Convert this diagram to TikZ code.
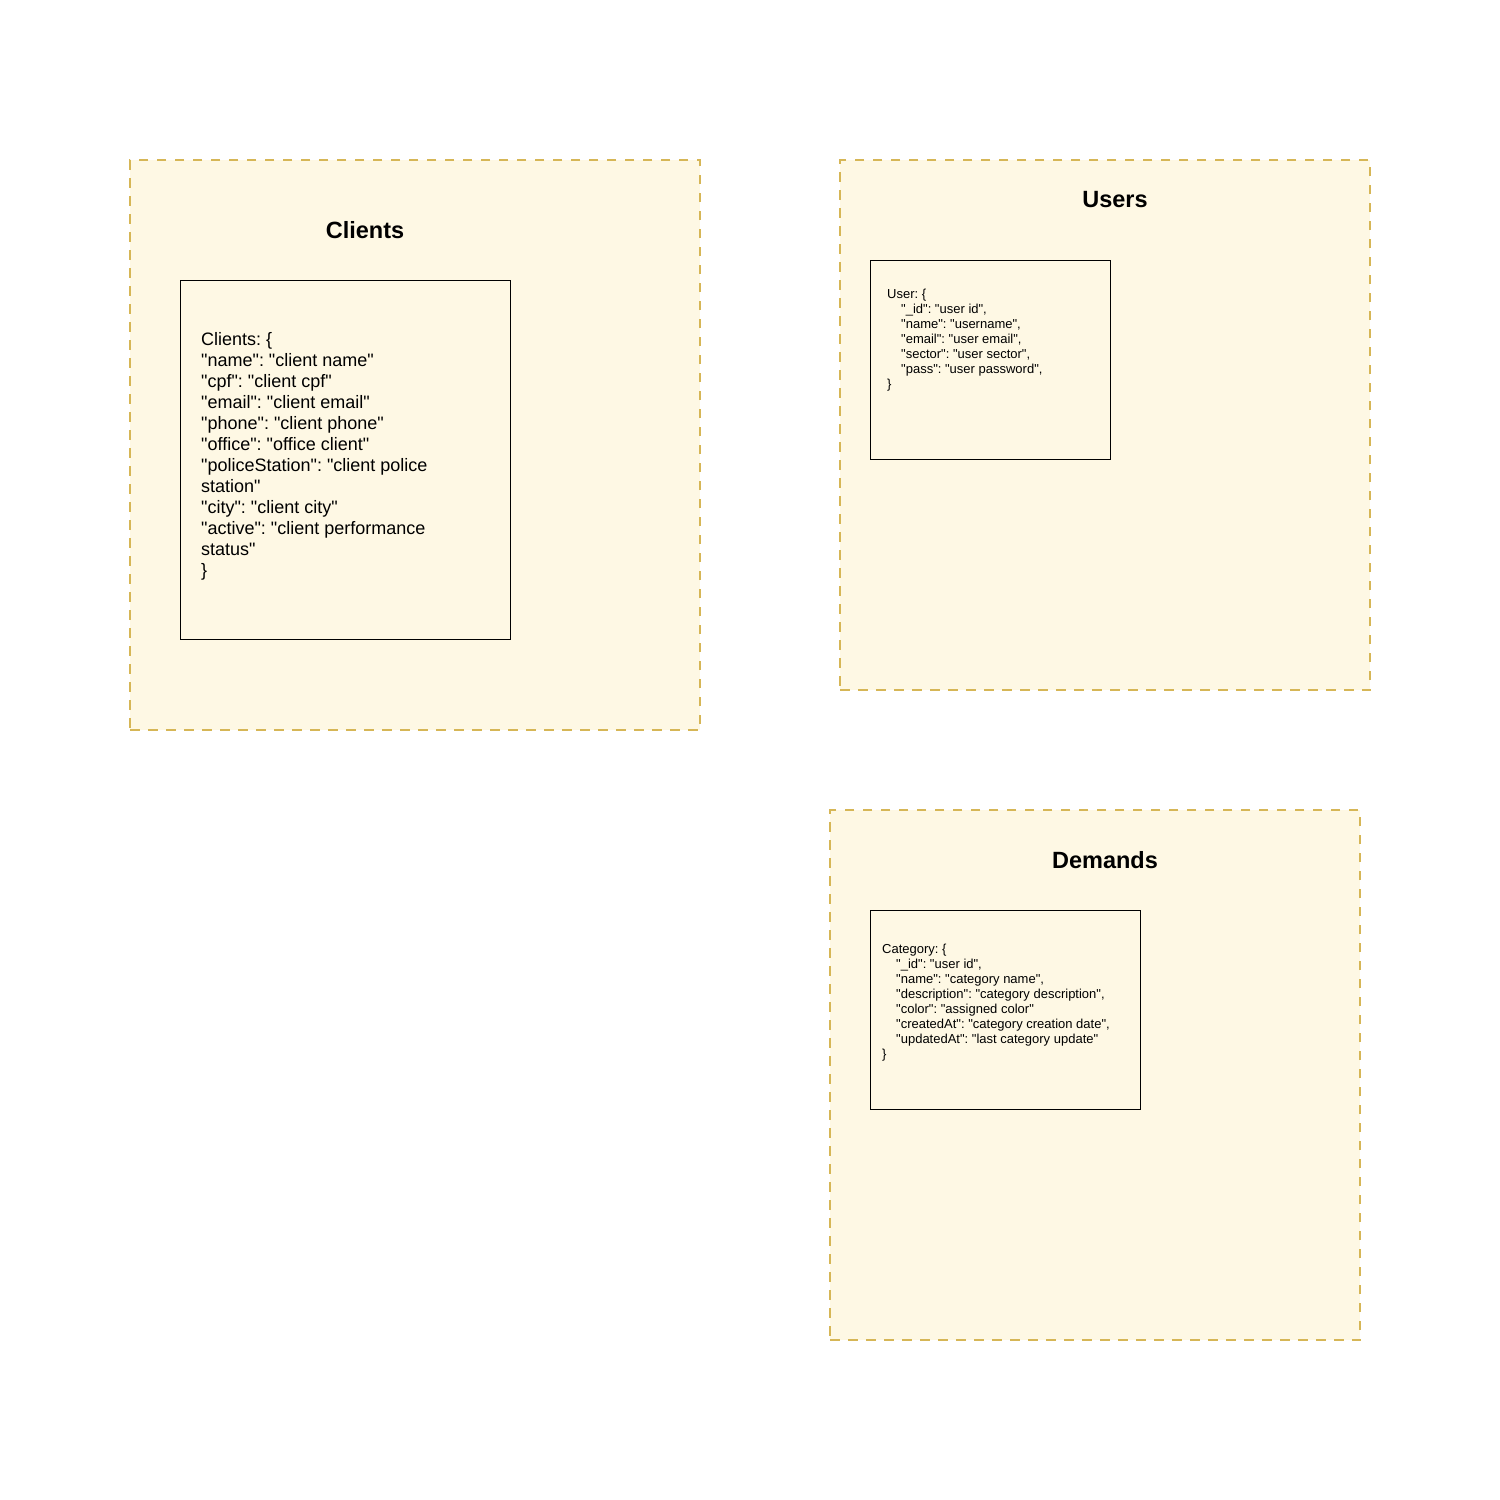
\documentclass[tikz,border=0pt]{standalone}
\usepackage{fontspec}
\setmainfont{Liberation Sans}[Ligatures=TeXOff]
\frenchspacing
\definecolor{contfill}{HTML}{FEF8E4}
\definecolor{contline}{HTML}{D6B656}
\begin{document}
\begin{tikzpicture}[x=1pt,y=-1pt,
  container/.style={draw=contline, fill=contfill, line width=2.6pt, dash pattern=on 9.5pt off 8.5pt, inner sep=0pt},
  jsonbox/.style={draw=black, line width=0.8pt, fill=contfill, inner sep=0pt},
  title/.style={font=\fontsize{23.5}{28}\selectfont\bfseries, inner sep=0pt},
  bigtext/.style={font=\fontsize{18}{21}\selectfont, align=left, inner sep=0pt, anchor=west},
  smalltext/.style={font=\fontsize{13}{15}\selectfont, align=left, inner sep=0pt, anchor=west}]
\useasboundingbox (0,0) rectangle (1500,1500);
\fill[white] (0,0) rectangle (1500,1500);
% Clients
\node[container, minimum width=570pt, minimum height=570pt] (clientsC) at (415,445) {};
\node[title] (clientsT) at (365,230) {Clients};
\node[jsonbox, minimum width=330pt, minimum height=359pt] (clientsB) at (345,459.5) {};
\node[bigtext] (clientsX) at (201,456) {Clients: \{\\
"name": "client name"\\
"cpf": "client cpf"\\
"email": "client email"\\
"phone": "client phone"\\
"office": "office client"\\
"policeStation": "client police\\
station"\\
"city": "client city"\\
"active": "client performance\\
status"\\
\}};
% Users
\node[container, minimum width=530pt, minimum height=530pt] (usersC) at (1105,425) {};
\node[title] (usersT) at (1115,200) {Users};
\node[jsonbox, minimum width=240pt, minimum height=199pt] (usersB) at (990,359.5) {};
\node[smalltext] (usersX) at (887,340) {User: \{\\
\hspace*{14pt}"\_id": "user id",\\
\hspace*{14pt}"name": "username",\\
\hspace*{14pt}"email": "user email",\\
\hspace*{14pt}"sector": "user sector",\\
\hspace*{14pt}"pass": "user password",\\
\}};
% Demands
\node[container, minimum width=530pt, minimum height=530pt] (demandsC) at (1095,1075) {};
\node[title] (demandsT) at (1105,860) {Demands};
\node[jsonbox, minimum width=270pt, minimum height=199pt] (demandsB) at (1005,1009.5) {};
\node[smalltext] (demandsX) at (882,1002.5) {Category: \{\\
\hspace*{14pt}"\_id": "user id",\\
\hspace*{14pt}"name": "category name",\\
\hspace*{14pt}"description": "category description",\\
\hspace*{14pt}"color": "assigned color"\\
\hspace*{14pt}"createdAt": "category creation date",\\
\hspace*{14pt}"updatedAt": "last category update"\\
\}};
\end{tikzpicture}
\end{document}
